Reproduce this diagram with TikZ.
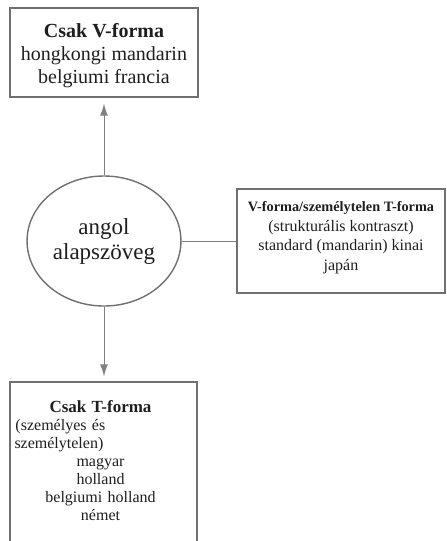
\documentclass[tikz,border=0pt]{standalone}
\usepackage{fontspec}
\setmainfont{Liberation Serif}
\usepackage{tikz}
\usetikzlibrary{arrows.meta,positioning,shapes.geometric}
\definecolor{linegray}{RGB}{128,128,128}
\definecolor{framegray}{RGB}{112,112,112}
\definecolor{inkgray}{RGB}{30,30,30}
\tikzset{
  frame/.style={draw=framegray, line width=1.4pt, rectangle, inner sep=0pt},
  hub/.style={draw=framegray, line width=1.4pt, ellipse, minimum width=140pt, minimum height=130pt, align=center, text=inkgray, font=\fontsize{23}{25}\selectfont},
  boxtext/.style={align=center, text=inkgray, inner sep=0pt},
  arrow/.style={-{Latex[length=12pt,width=8pt]}, line width=1pt, draw=linegray, fill=linegray},
  link/.style={line width=1pt, draw=linegray}
}
\begin{document}
\begin{tikzpicture}[x=1pt,y=-1pt]
  \useasboundingbox (0,0) rectangle (447,541);
  \clip (0,0) rectangle (447,541);
  % central node
  \node[hub] (core) at (104,241) {angol\\alapszöveg};
  % boxes
  \node[frame, minimum width=188pt, minimum height=89pt] (vonly) at (104,52.5) {};
  \node[frame, minimum width=208pt, minimum height=104pt] (mixed) at (341,241) {};
  \node[frame, minimum width=187pt, minimum height=190pt] (tonly) at (103.5,477) {};
  % texts in the boxes
  \node[boxtext, font=\fontsize{20}{23}\selectfont, below=16pt of vonly.north] (vtext)
    {\textbf{Csak V-forma}\\hongkongi mandarin\\belgiumi francia};
  \node[boxtext, font=\fontsize{16}{19.5}\selectfont, below=13pt of mixed.north] (mtext)
    {{\fontsize{14.3}{19.5}\selectfont\textbf{V-forma/személytelen T-forma}}\\(strukturális kontraszt)\\standard (mandarin) kinai\\japán};
  \node[boxtext, font=\fontsize{16}{18}\selectfont, text width=172pt, below=19pt of tonly.north, xshift=-3pt] (ttext)
    {{\fontsize{17}{18}\selectfont\textbf{Csak T-forma}}\\
     \makebox[172pt][l]{\hspace{1pt}(személyes és}\\
     \makebox[172pt][l]{személytelen)}\\
     magyar\\holland\\belgiumi holland\\német};
  % connectors
  \draw[arrow, shorten >=6pt] (core.north) -- (core.north |- vonly.south);
  \draw[arrow, shorten >=5pt] (core.south) -- (core.south |- tonly.north);
  \draw[link] (core.east) -- (core.east -| mixed.west);
\end{tikzpicture}
\end{document}
